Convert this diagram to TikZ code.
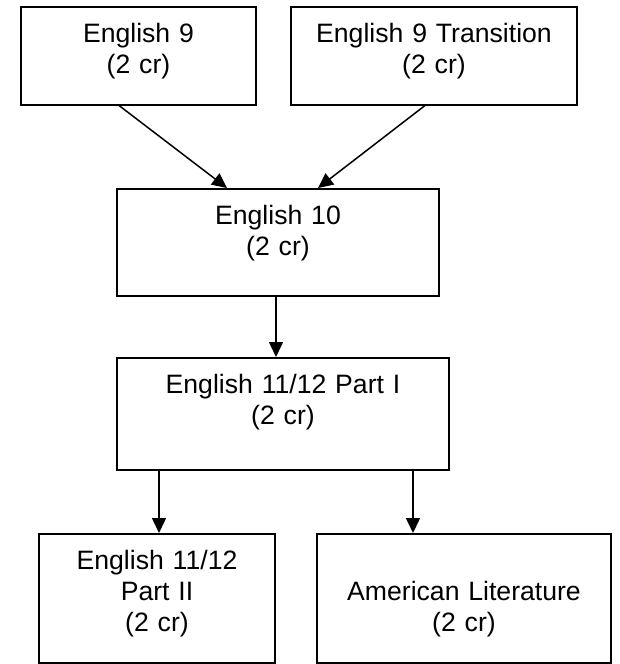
\documentclass[tikz,border=0pt]{standalone}
\usepackage{fontspec}
\setmainfont{Liberation Sans}
\usetikzlibrary{arrows.meta,positioning}

\begin{document}
\begin{tikzpicture}[x=0.5pt, y=-0.5pt,
  course/.style={draw, line width=0.75pt, anchor=north, inner sep=0pt, align=center,
    text height=18pt, font=\fontsize{13.3}{15.5}\selectfont},
  flow/.style={-{Triangle[length=7.5pt,width=7pt]}, line width=0.75pt}]
\useasboundingbox (0,0) rectangle (620,664);

% Grade 9
\node[course, text width=117.5pt, text depth=31pt] (eng9) at (138.5,6) {English 9\\(2 cr)};
\node[course, text width=143pt, text depth=31pt] (eng9t) at (434,6) {English 9 Transition\\(2 cr)};

% Grade 10
\node[course, text width=161pt, text depth=35.5pt] (eng10) at (278,188) {English 10\\(2 cr)};

% Grade 11/12
\node[course, text width=166pt, text depth=38pt] (eng11a) at (283,357) {English 11/12 Part I\\(2 cr)};
\node[course, text width=118pt, text depth=46.5pt] (eng11b) at (157,533) {English 11/12\\Part II\\(2 cr)};
\node[course, text width=147pt, text height=33.5pt, text depth=31pt] (amlit) at (464,533) {American Literature\\(2 cr)};

% Connections
\draw[flow] ([xshift=-9.75pt]eng9.south) -- ([xshift=-25.5pt]eng10.north);
\draw[flow] ([xshift=-4.5pt]eng9t.south) -- ([xshift=20pt]eng10.north);
\draw[flow] ([xshift=-1pt]eng10.south) -- ([xshift=-3.5pt]eng11a.north);
\draw[flow] ([xshift=-62pt]eng11a.south) -- ([xshift=1pt]eng11b.north);
\draw[flow] ([xshift=65pt]eng11a.south) -- ([xshift=-25.5pt]amlit.north);
\end{tikzpicture}
\end{document}
